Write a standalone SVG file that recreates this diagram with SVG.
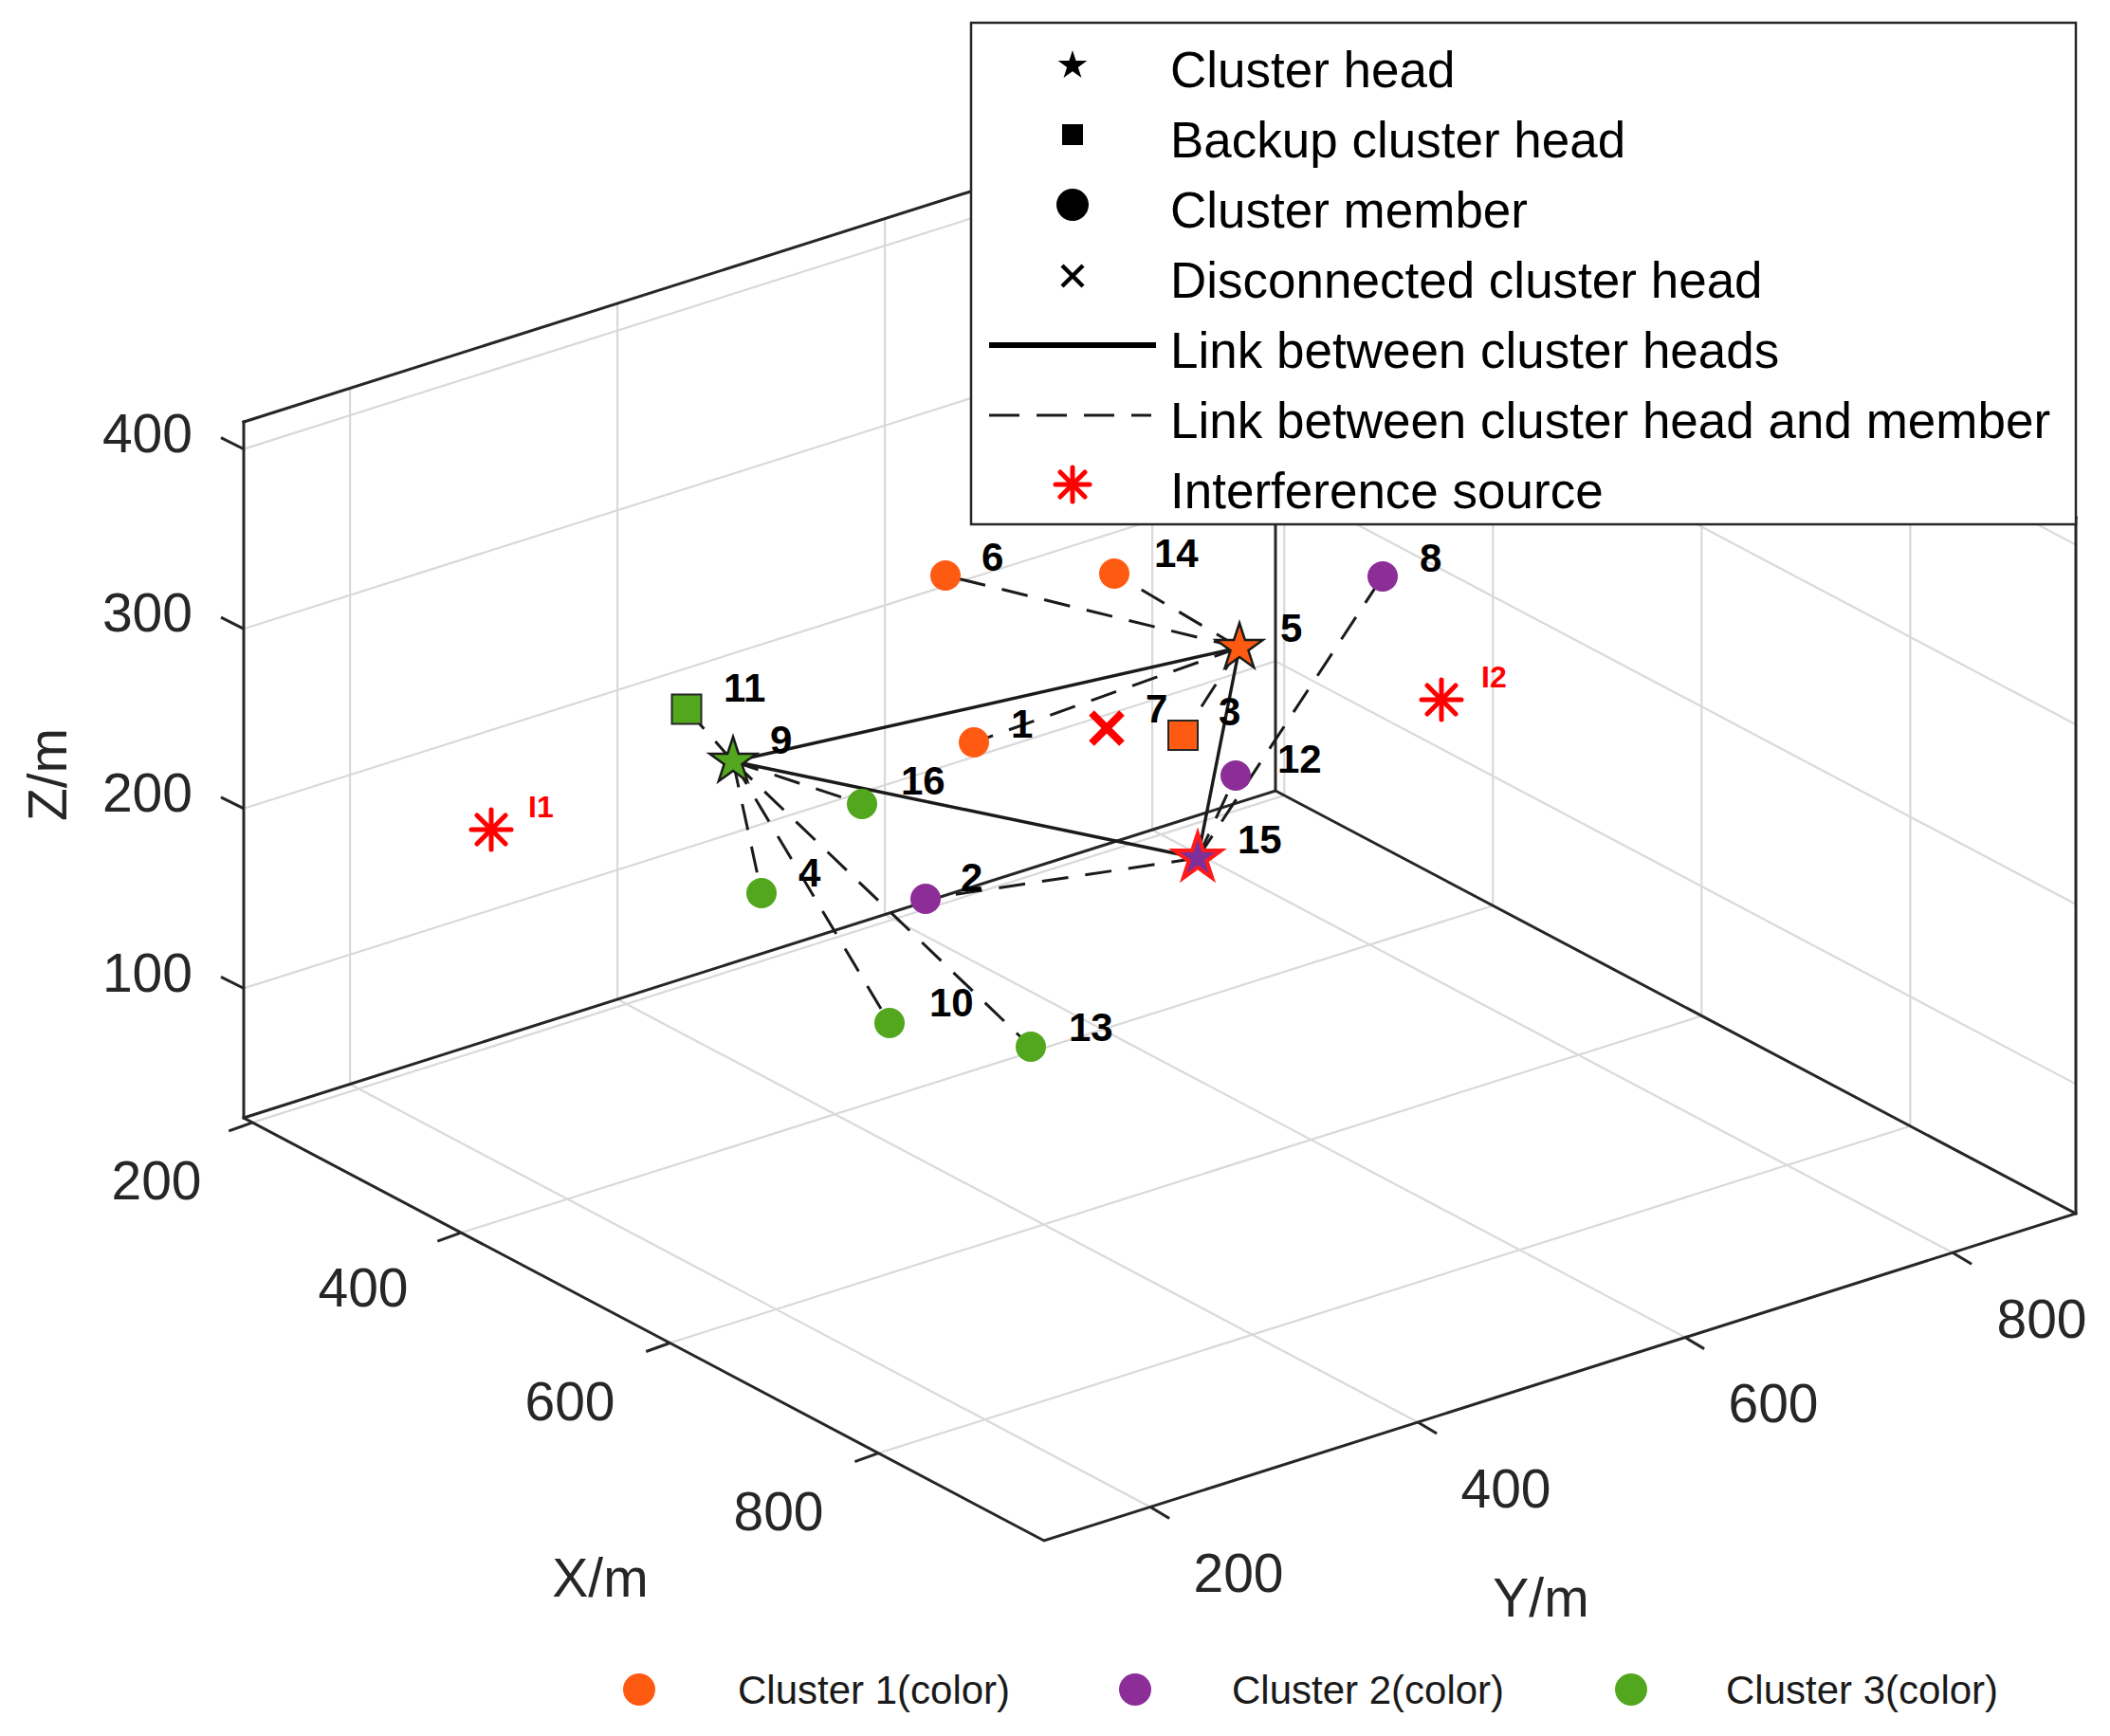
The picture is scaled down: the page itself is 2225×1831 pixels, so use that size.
<svg xmlns="http://www.w3.org/2000/svg" xmlns:xlink="http://www.w3.org/1999/xlink" width="2225" height="1831" viewBox="0 0 2225 1831">
<style>
.grid{stroke:#d9d9d9;stroke-width:2.2;fill:none}
.box{stroke:#262626;stroke-width:3;fill:none;stroke-linecap:square}
.tick{stroke:#262626;stroke-width:3}
.tl{font-family:"Liberation Sans",Arial,sans-serif;font-size:57px;fill:#262626}
.solid{stroke:#1a1a1a;stroke-width:3.4;fill:none}
.dash{stroke:#1a1a1a;stroke-width:3;stroke-dasharray:28 18;fill:none}
.lbl{font-family:"Liberation Sans",Arial,sans-serif;font-weight:bold;font-size:42px;fill:#000}
.ilbl{font-family:"Liberation Sans",Arial,sans-serif;font-weight:bold;font-size:32px;fill:#ff0000}
.leg{font-family:"Liberation Sans",Arial,sans-serif;font-size:53px;fill:#000}
.bl{font-family:"Liberation Sans",Arial,sans-serif;font-size:42px;fill:#1a1a1a}
.or{fill:#ff5a12}
.pu{fill:#8c2d98}
.gr{fill:#52a71e}
.ast{stroke:#ff0000;stroke-width:5;stroke-linecap:round}
</style>
<defs>
<path id="star" d="M0,-26 L5.84,-8.03 L24.73,-8.03 L9.44,3.07 L15.28,21.03 L0,9.93 L-15.28,21.03 L-9.44,3.07 L-24.73,-8.03 L-5.84,-8.03 Z"/>
<g id="asterisk">
<line x1="-21" y1="0" x2="21" y2="0"/>
<line x1="0" y1="-21" x2="0" y2="21"/>
<line x1="-15" y1="-15" x2="15" y2="15"/>
<line x1="-15" y1="15" x2="15" y2="-15"/>
</g>
</defs>
<rect width="2225" height="1831" fill="#ffffff"/>

<g id="grid">
<line class="grid" x1="266.3" y1="1183.9" x2="1354.3" y2="838.9"/>
<line class="grid" x1="486.3" y1="1300.2" x2="1574.3" y2="955.2"/>
<line class="grid" x1="706.3" y1="1416.5" x2="1794.3" y2="1071.5"/>
<line class="grid" x1="926.4" y1="1532.7" x2="2014.4" y2="1187.7"/>
<line class="grid" x1="369.1" y1="1143.5" x2="1213.1" y2="1589.5"/>
<line class="grid" x1="651.1" y1="1054.0" x2="1495.1" y2="1500.0"/>
<line class="grid" x1="933.1" y1="964.6" x2="1777.1" y2="1410.6"/>
<line class="grid" x1="1215.1" y1="875.2" x2="2059.1" y2="1321.2"/>
<line class="grid" x1="369.1" y1="1143.5" x2="369.1" y2="409.5"/>
<line class="grid" x1="651.1" y1="1054.0" x2="651.1" y2="320.0"/>
<line class="grid" x1="933.1" y1="964.6" x2="933.1" y2="230.6"/>
<line class="grid" x1="1215.1" y1="875.2" x2="1215.1" y2="141.2"/>
<line class="grid" x1="257" y1="1042.4" x2="1345" y2="697.4"/>
<line class="grid" x1="257" y1="852.8" x2="1345" y2="507.8"/>
<line class="grid" x1="257" y1="663.2" x2="1345" y2="318.2"/>
<line class="grid" x1="257" y1="473.6" x2="1345" y2="128.6"/>
<line class="grid" x1="1354.3" y1="838.9" x2="1354.3" y2="104.9"/>
<line class="grid" x1="1574.3" y1="955.2" x2="1574.3" y2="221.2"/>
<line class="grid" x1="1794.3" y1="1071.5" x2="1794.3" y2="337.5"/>
<line class="grid" x1="2014.4" y1="1187.7" x2="2014.4" y2="453.7"/>
<line class="grid" x1="1345" y1="697.4" x2="2189" y2="1143.4"/>
<line class="grid" x1="1345" y1="507.8" x2="2189" y2="953.8"/>
<line class="grid" x1="1345" y1="318.2" x2="2189" y2="764.2"/>
<line class="grid" x1="1345" y1="128.6" x2="2189" y2="574.6"/>
</g>

<g id="axes">
<polyline class="box" points="257,445 257,1179 1101,1625 2189,1280 2189,546"/>
<polyline class="box" points="257,1179 1345,834 2189,1280"/>
<line class="box" x1="1345" y1="834" x2="1345" y2="100"/>
<line class="box" x1="257" y1="445" x2="1345" y2="100"/>
<line class="box" x1="1345" y1="100" x2="2189" y2="546"/>
<line class="tick" x1="266.3" y1="1183.9" x2="241.3" y2="1192.9"/>
<line class="tick" x1="486.3" y1="1300.2" x2="461.3" y2="1309.2"/>
<line class="tick" x1="706.3" y1="1416.5" x2="681.3" y2="1425.5"/>
<line class="tick" x1="926.4" y1="1532.7" x2="901.4" y2="1541.7"/>
<line class="tick" x1="1213.1" y1="1589.5" x2="1233.1" y2="1601.5"/>
<line class="tick" x1="1495.1" y1="1500.0" x2="1515.1" y2="1512.0"/>
<line class="tick" x1="1777.1" y1="1410.6" x2="1797.1" y2="1422.6"/>
<line class="tick" x1="2059.1" y1="1321.2" x2="2079.1" y2="1333.2"/>
<line class="tick" x1="257" y1="1042.4" x2="233" y2="1030.4"/>
<line class="tick" x1="257" y1="852.8" x2="233" y2="840.8"/>
<line class="tick" x1="257" y1="663.2" x2="233" y2="651.2"/>
<line class="tick" x1="257" y1="473.6" x2="233" y2="461.6"/>
<text class="tl" x="203" y="1045.5" text-anchor="end">100</text>
<text class="tl" x="203" y="856" text-anchor="end">200</text>
<text class="tl" x="203" y="666.3" text-anchor="end">300</text>
<text class="tl" x="203" y="476.7" text-anchor="end">400</text>
<text class="tl" x="165" y="1265" text-anchor="middle">200</text>
<text class="tl" x="383" y="1378" text-anchor="middle">400</text>
<text class="tl" x="601" y="1498" text-anchor="middle">600</text>
<text class="tl" x="821" y="1614" text-anchor="middle">800</text>
<text class="tl" x="1306" y="1679" text-anchor="middle">200</text>
<text class="tl" x="1588" y="1590" text-anchor="middle">400</text>
<text class="tl" x="1870" y="1500" text-anchor="middle">600</text>
<text class="tl" x="2153" y="1411" text-anchor="middle">800</text>
<text class="tl" x="633" y="1684" text-anchor="middle">X/m</text>
<text class="tl" x="1625" y="1705" text-anchor="middle">Y/m</text>
<text class="tl" text-anchor="middle" transform="translate(70,817) rotate(-90)">Z/m</text>
</g>

<g id="connectors">
<line class="solid" x1="773" y1="803" x2="1307" y2="683"/>
<line class="solid" x1="773" y1="803" x2="1263" y2="905"/>
<line class="solid" x1="1307" y1="683" x2="1263" y2="905"/>
<line class="dash" x1="1307" y1="683" x2="997" y2="607"/>
<line class="dash" x1="1307" y1="683" x2="1175" y2="605"/>
<line class="dash" x1="1307" y1="683" x2="1027" y2="783"/>
<line class="dash" x1="1307" y1="683" x2="1247.5" y2="775.5"/>
<line class="dash" x1="1263" y1="905" x2="1458" y2="608"/>
<line class="dash" x1="1263" y1="905" x2="1303" y2="818"/>
<line class="dash" x1="1263" y1="905" x2="976" y2="948"/>
<line class="dash" x1="773" y1="803" x2="724" y2="748"/>
<line class="dash" x1="773" y1="803" x2="909" y2="848"/>
<line class="dash" x1="773" y1="803" x2="803" y2="942"/>
<line class="dash" x1="773" y1="803" x2="938" y2="1079"/>
<line class="dash" x1="773" y1="803" x2="1087" y2="1104"/>
</g>

<g id="node-1"><circle class="or" cx="1027" cy="783" r="16"/><text class="lbl" x="1066" y="778">1</text></g>
<g id="node-2"><circle class="pu" cx="976" cy="948" r="16"/><text class="lbl" x="1013" y="940">2</text></g>
<g id="node-3"><rect class="or" x="1232" y="760" width="31" height="31" stroke="#262626" stroke-width="2"/><text class="lbl" x="1285" y="765">3</text></g>
<g id="node-4"><circle class="gr" cx="803" cy="942" r="16"/><text class="lbl" x="842" y="935">4</text></g>
<g id="node-6"><circle class="or" cx="997" cy="607" r="16"/><text class="lbl" x="1035" y="602">6</text></g>
<g id="node-7"><g stroke="#ff0000" stroke-width="8"><line x1="1151" y1="752" x2="1183" y2="784"/><line x1="1151" y1="784" x2="1183" y2="752"/></g><text class="lbl" x="1208" y="762">7</text></g>
<g id="node-8"><circle class="pu" cx="1458" cy="608" r="16"/><text class="lbl" x="1497" y="603">8</text></g>
<g id="node-10"><circle class="gr" cx="938" cy="1079" r="16"/><text class="lbl" x="980" y="1072">10</text></g>
<g id="node-11"><rect class="gr" x="708.5" y="732.5" width="31" height="31" stroke="#262626" stroke-width="2"/><text class="lbl" x="763" y="740">11</text></g>
<g id="node-12"><circle class="pu" cx="1303" cy="818" r="16"/><text class="lbl" x="1347" y="815">12</text></g>
<g id="node-13"><circle class="gr" cx="1087" cy="1104" r="16"/><text class="lbl" x="1127" y="1098">13</text></g>
<g id="node-14"><circle class="or" cx="1175" cy="605" r="16"/><text class="lbl" x="1217" y="598">14</text></g>
<g id="node-16"><circle class="gr" cx="909" cy="848" r="16"/><text class="lbl" x="950" y="838">16</text></g>
<g id="node-5"><use xlink:href="#star" href="#star" x="1307" y="683" fill="#ff5a12" stroke="#1a1a1a" stroke-width="2.5"/><text class="lbl" x="1350" y="677">5</text></g>
<g id="node-9"><use xlink:href="#star" href="#star" x="773" y="803" fill="#52a71e" stroke="#1a1a1a" stroke-width="2.5"/><text class="lbl" x="812" y="795">9</text></g>
<g id="node-15"><use xlink:href="#star" href="#star" x="1263" y="905" fill="#7e2f9a" stroke="#ff1a1a" stroke-width="4"/><text class="lbl" x="1305" y="900">15</text></g>
<g id="node-I1"><use xlink:href="#asterisk" href="#asterisk" class="ast" x="518" y="875"/><text class="ilbl" x="557" y="862">I1</text></g>
<g id="node-I2"><use xlink:href="#asterisk" href="#asterisk" class="ast" x="1520" y="738"/><text class="ilbl" x="1562" y="725">I2</text></g>

<g id="legend">
<rect x="1024" y="24" width="1165" height="529" fill="#ffffff" stroke="#262626" stroke-width="2.5"/>
<path transform="translate(1131,69) scale(0.62)" d="M0,-26 L5.84,-8.03 L24.73,-8.03 L9.44,3.07 L15.28,21.03 L0,9.93 L-15.28,21.03 L-9.44,3.07 L-24.73,-8.03 L-5.84,-8.03 Z" fill="#000"/>
<rect x="1120" y="131" width="22" height="22" fill="#000"/>
<circle cx="1131" cy="216" r="17" fill="#000"/>
<g stroke="#000" stroke-width="4.5"><line x1="1120" y1="280" x2="1142" y2="302"/><line x1="1120" y1="302" x2="1142" y2="280"/></g>
<line x1="1043" y1="364" x2="1219" y2="364" stroke="#000" stroke-width="6"/>
<line x1="1043" y1="438" x2="1214" y2="438" stroke="#1a1a1a" stroke-width="3.2" stroke-dasharray="32 18"/>
<g class="ast" stroke-width="4.5"><line x1="1113" y1="511" x2="1149" y2="511"/><line x1="1131" y1="493" x2="1131" y2="529"/><line x1="1118" y1="498" x2="1144" y2="524"/><line x1="1118" y1="524" x2="1144" y2="498"/></g>
<text class="leg" x="1234" y="92">Cluster head</text>
<text class="leg" x="1234" y="166">Backup cluster head</text>
<text class="leg" x="1234" y="240">Cluster member</text>
<text class="leg" x="1234" y="314">Disconnected cluster head</text>
<text class="leg" x="1234" y="388">Link between cluster heads</text>
<text class="leg" x="1234" y="462">Link between cluster head and member</text>
<text class="leg" x="1234" y="536">Interference source</text>
</g>

<g id="color-legend">
<circle class="or" cx="674" cy="1782" r="17"/>
<text class="bl" x="778" y="1797">Cluster 1(color)</text>
<circle class="pu" cx="1197" cy="1782" r="17"/>
<text class="bl" x="1299" y="1797">Cluster 2(color)</text>
<circle class="gr" cx="1720" cy="1782" r="17"/>
<text class="bl" x="1820" y="1797">Cluster 3(color)</text>
</g>
</svg>
